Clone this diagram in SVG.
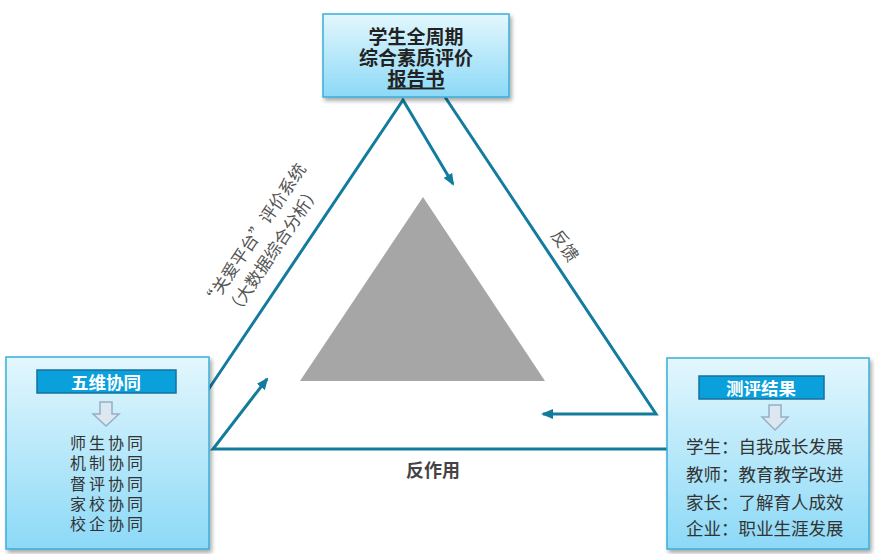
<svg xmlns="http://www.w3.org/2000/svg" width="875" height="554" viewBox="0 0 875 554">
<style>
.box{fill:url(#bg);stroke:#3aaed8;stroke-width:1.5;filter:url(#sh)}
.hdr{fill:#0aa0dc;stroke:#16709e;stroke-width:1.5}
.hdrt{font-family:"Noto Sans CJK SC",sans-serif;font-size:17.5px;font-weight:bold;fill:#fff;text-anchor:middle;dominant-baseline:central}
.t{font-family:"Noto Sans CJK SC",sans-serif;font-size:17.5px;fill:#333;dominant-baseline:central}
.lst{font-family:"Noto Sans CJK SC",sans-serif;font-size:16px;letter-spacing:3px;fill:#333;text-anchor:middle;dominant-baseline:central}
.tt{font-family:"Noto Sans CJK SC",sans-serif;font-size:19px;font-weight:bold;fill:#222;text-anchor:middle;dominant-baseline:central}
.lbl{font-family:"Noto Sans CJK SC",sans-serif;font-size:17px;fill:#555;text-anchor:middle;dominant-baseline:central}
.con{fill:none;stroke:#137c9e;stroke-width:3;stroke-linejoin:miter}
.darr{fill:#dbe7f1;stroke:#97aec6;stroke-width:1.5}
</style>
<defs>
<linearGradient id="bg" x1="0" y1="0" x2="0" y2="1">
<stop offset="0" stop-color="#e3f7fd"/>
<stop offset="1" stop-color="#8cd9f7"/>
</linearGradient>
<filter id="sh" x="-10%" y="-10%" width="125%" height="125%">
<feDropShadow dx="2" dy="3" stdDeviation="2" flood-color="#000" flood-opacity="0.35"/>
</filter>
<marker id="ah" viewBox="0 0 12 10" refX="10" refY="5" markerWidth="12" markerHeight="10" markerUnits="userSpaceOnUse" orient="auto">
<path d="M0,0 L12,5 L0,10 Z" fill="#137c9e"/>
</marker>
</defs>
<rect width="875" height="554" fill="#fff"/>
<polygon id="center-triangle" points="423,197 545,381 300,381" fill="#a6a6a6"/>
<g id="connectors">
<path class="con" d="M208,390 L403,100 L453,184" marker-end="url(#ah)"/>
<path class="con" d="M445,97 L656,414 L543,414" marker-end="url(#ah)"/>
<path class="con" d="M667,449 L213,449 L267,379" marker-end="url(#ah)"/>
<text class="lbl" transform="translate(253,235) rotate(-56)">“关爱平台”评价系统</text>
<text class="lbl" transform="translate(272,250) rotate(-56)">（大数据综合分析）</text>
<text class="lbl" transform="translate(566,245) rotate(56)">反馈</text>
<text class="lbl" x="433" y="469" style="font-weight:bold;font-size:18px;fill:#444">反作用</text>
</g>
<g id="report">
<rect class="box" x="323" y="14" width="186" height="83"/>
<text class="tt" x="416" y="35">学生全周期</text>
<text class="tt" x="416" y="56">综合素质评价</text>
<text class="tt" x="416" y="77" style="text-decoration:underline">报告书</text>
</g>
<g id="five-dim">
<rect class="box" x="6" y="357" width="203" height="192"/>
<rect class="hdr" x="37" y="370" width="139" height="23"/>
<text class="hdrt" x="106" y="381.5">五维协同</text>
<path class="darr" d="M100,402 H112 V414 H119 L106,426 L93,414 H100 Z"/>
<text class="lst" x="108" y="442">师生协同</text>
<text class="lst" x="108" y="462">机制协同</text>
<text class="lst" x="108" y="483">督评协同</text>
<text class="lst" x="108" y="503">家校协同</text>
<text class="lst" x="108" y="523">校企协同</text>
</g>
<g id="results">
<rect class="box" x="667" y="358" width="202" height="191"/>
<rect class="hdr" x="699" y="376" width="125" height="23"/>
<text class="hdrt" x="761" y="387.5">测评结果</text>
<path class="darr" d="M769,405 H781 V417 H788 L775,430 L762,417 H769 Z"/>
<text class="t" x="686" y="445">学生：自我成长发展</text>
<text class="t" x="686" y="473">教师：教育教学改进</text>
<text class="t" x="686" y="501">家长：了解育人成效</text>
<text class="t" x="686" y="527">企业：职业生涯发展</text>
</g>
</svg>
